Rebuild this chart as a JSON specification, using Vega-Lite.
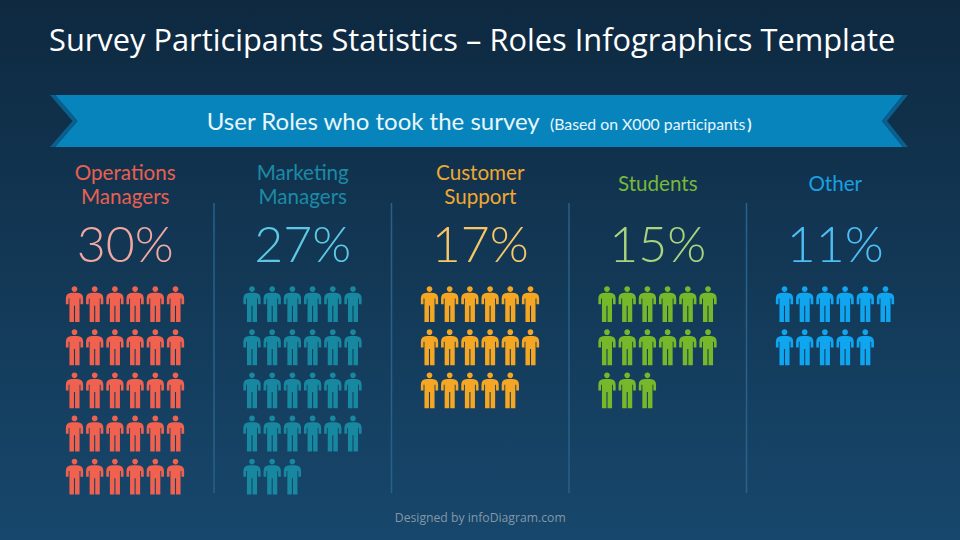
{
"$schema":"https://vega.github.io/schema/vega-lite/v6.json",
"width":960,"height":540,"padding":0,"autosize":{"type":"none"},
"background":"#122f49",
"config":{"view":{"stroke":null,"fill":{"gradient":"linear","x1":0,"y1":0,"x2":0,"y2":1,"stops":[{"offset":0,"color":"#0e2940"},{"offset":1,"color":"#17476c"}]}},"text":{"font":"Lato"}},
"title":{"text":"Survey Participants Statistics – Roles Infographics Template","anchor":"start","frame":"group","orient":"top","offset":0,"dx":49,"dy":82,"baseline":"alphabetic","font":"Open Sans","fontSize":30.8,"fontWeight":"normal","color":"#ffffff"},
"datasets":{
"roles":[
{"role":"Operations Managers","label":"Operations\nManagers","lines":2,"share":0.30},
{"role":"Marketing Managers","label":"Marketing\nManagers","lines":2,"share":0.27},
{"role":"Customer Support","label":"Customer\nSupport","lines":2,"share":0.17},
{"role":"Students","label":"Students","lines":1,"share":0.15},
{"role":"Other","label":"Other","lines":1,"share":0.11}],
"ribbon":[{"part":"band","role":"Customer Support"},{"part":"edge","role":"Customer Support"}],
"people":[
{"role":"Operations Managers","row":0,"col":0},{"role":"Operations Managers","row":0,"col":1},{"role":"Operations Managers","row":0,"col":2},{"role":"Operations Managers","row":0,"col":3},{"role":"Operations Managers","row":0,"col":4},{"role":"Operations Managers","row":0,"col":5},
{"role":"Operations Managers","row":1,"col":0},{"role":"Operations Managers","row":1,"col":1},{"role":"Operations Managers","row":1,"col":2},{"role":"Operations Managers","row":1,"col":3},{"role":"Operations Managers","row":1,"col":4},{"role":"Operations Managers","row":1,"col":5},
{"role":"Operations Managers","row":2,"col":0},{"role":"Operations Managers","row":2,"col":1},{"role":"Operations Managers","row":2,"col":2},{"role":"Operations Managers","row":2,"col":3},{"role":"Operations Managers","row":2,"col":4},{"role":"Operations Managers","row":2,"col":5},
{"role":"Operations Managers","row":3,"col":0},{"role":"Operations Managers","row":3,"col":1},{"role":"Operations Managers","row":3,"col":2},{"role":"Operations Managers","row":3,"col":3},{"role":"Operations Managers","row":3,"col":4},{"role":"Operations Managers","row":3,"col":5},
{"role":"Operations Managers","row":4,"col":0},{"role":"Operations Managers","row":4,"col":1},{"role":"Operations Managers","row":4,"col":2},{"role":"Operations Managers","row":4,"col":3},{"role":"Operations Managers","row":4,"col":4},{"role":"Operations Managers","row":4,"col":5},
{"role":"Marketing Managers","row":0,"col":0},{"role":"Marketing Managers","row":0,"col":1},{"role":"Marketing Managers","row":0,"col":2},{"role":"Marketing Managers","row":0,"col":3},{"role":"Marketing Managers","row":0,"col":4},{"role":"Marketing Managers","row":0,"col":5},
{"role":"Marketing Managers","row":1,"col":0},{"role":"Marketing Managers","row":1,"col":1},{"role":"Marketing Managers","row":1,"col":2},{"role":"Marketing Managers","row":1,"col":3},{"role":"Marketing Managers","row":1,"col":4},{"role":"Marketing Managers","row":1,"col":5},
{"role":"Marketing Managers","row":2,"col":0},{"role":"Marketing Managers","row":2,"col":1},{"role":"Marketing Managers","row":2,"col":2},{"role":"Marketing Managers","row":2,"col":3},{"role":"Marketing Managers","row":2,"col":4},{"role":"Marketing Managers","row":2,"col":5},
{"role":"Marketing Managers","row":3,"col":0},{"role":"Marketing Managers","row":3,"col":1},{"role":"Marketing Managers","row":3,"col":2},{"role":"Marketing Managers","row":3,"col":3},{"role":"Marketing Managers","row":3,"col":4},{"role":"Marketing Managers","row":3,"col":5},
{"role":"Marketing Managers","row":4,"col":0},{"role":"Marketing Managers","row":4,"col":1},{"role":"Marketing Managers","row":4,"col":2},
{"role":"Customer Support","row":0,"col":0},{"role":"Customer Support","row":0,"col":1},{"role":"Customer Support","row":0,"col":2},{"role":"Customer Support","row":0,"col":3},{"role":"Customer Support","row":0,"col":4},{"role":"Customer Support","row":0,"col":5},
{"role":"Customer Support","row":1,"col":0},{"role":"Customer Support","row":1,"col":1},{"role":"Customer Support","row":1,"col":2},{"role":"Customer Support","row":1,"col":3},{"role":"Customer Support","row":1,"col":4},{"role":"Customer Support","row":1,"col":5},
{"role":"Customer Support","row":2,"col":0},{"role":"Customer Support","row":2,"col":1},{"role":"Customer Support","row":2,"col":2},{"role":"Customer Support","row":2,"col":3},{"role":"Customer Support","row":2,"col":4},
{"role":"Students","row":0,"col":0},{"role":"Students","row":0,"col":1},{"role":"Students","row":0,"col":2},{"role":"Students","row":0,"col":3},{"role":"Students","row":0,"col":4},{"role":"Students","row":0,"col":5},
{"role":"Students","row":1,"col":0},{"role":"Students","row":1,"col":1},{"role":"Students","row":1,"col":2},{"role":"Students","row":1,"col":3},{"role":"Students","row":1,"col":4},{"role":"Students","row":1,"col":5},
{"role":"Students","row":2,"col":0},{"role":"Students","row":2,"col":1},{"role":"Students","row":2,"col":2},
{"role":"Other","row":0,"col":0},{"role":"Other","row":0,"col":1},{"role":"Other","row":0,"col":2},{"role":"Other","row":0,"col":3},{"role":"Other","row":0,"col":4},{"role":"Other","row":0,"col":5},
{"role":"Other","row":1,"col":0},{"role":"Other","row":1,"col":1},{"role":"Other","row":1,"col":2},{"role":"Other","row":1,"col":3},{"role":"Other","row":1,"col":4}
]},
"encoding":{"x":{"field":"role","type":"nominal","axis":null,"sort":null,"scale":{"type":"band","domain":["Operations Managers","Marketing Managers","Customer Support","Students","Other"],"range":[36.5,924],"padding":0}}},
"layer":[
{"data":{"name":"ribbon"},"transform":[{"filter":"datum.part==='band'"}],
 "mark":{"type":"point","filled":true,"opacity":1,"strokeWidth":0,"fill":"#0784bc","shape":"M-0.98834 -0.0606L0.98834 -0.0606L0.9394 0L0.98834 0.0606L-0.98834 0.0606L-0.9359 0Z"},
 "encoding":{"x":{"field":"role","type":"nominal","bandPosition":0.493},"y":{"datum":"ribbon","type":"nominal","axis":null,"scale":{"type":"point","padding":0,"domain":["ribbon"],"range":[121,121]}},"size":{"value":736164}}},
{"data":{"name":"ribbon"},"transform":[{"filter":"datum.part==='edge'"}],
 "mark":{"type":"point","filled":true,"opacity":1,"strokeWidth":0,"fill":"#0a5f8e","shape":"M-1 -0.0606L-0.98834 -0.0606L-0.9359 0L-0.98834 0.0606L-1 0.0606L-0.9476 0ZM1 -0.0606L0.98834 -0.0606L0.9394 0L0.98834 0.0606L1 0.0606L0.9511 0Z"},
 "encoding":{"x":{"field":"role","type":"nominal","bandPosition":0.493},"y":{"datum":"ribbon","type":"nominal","axis":null,"scale":{"type":"point","padding":0,"domain":["ribbon"],"range":[121,121]}},"size":{"value":736164}}},
{"data":{"values":[{"role":"Customer Support","text":"User Roles who took the survey"}]},
 "mark":{"type":"text","fontSize":24,"color":"#e8f6fc","align":"left","dx":-273.5,"baseline":"middle"},
 "encoding":{"text":{"field":"text"},"y":{"datum":"ribbon","type":"nominal","axis":null,"scale":{"type":"point","padding":0,"domain":["ribbon"],"range":[123,123]}}}},
{"data":{"values":[{"role":"Customer Support","text":"(Based on X000 participants"}]},
 "mark":{"type":"text","fontSize":15.8,"color":"#e8f6fc","align":"left","dx":69.75,"baseline":"middle"},
 "encoding":{"text":{"field":"text"},"y":{"datum":"ribbon","type":"nominal","axis":null,"scale":{"type":"point","padding":0,"domain":["ribbon"],"range":[125,125]}}}},
{"data":{"values":[{"role":"Customer Support","text":")"}]},
 "mark":{"type":"text","fontSize":15.8,"fontWeight":"bold","color":"#e8f6fc","align":"left","dx":267,"baseline":"middle"},
 "encoding":{"text":{"field":"text"},"y":{"datum":"ribbon","type":"nominal","axis":null,"scale":{"type":"point","padding":0,"domain":["ribbon"],"range":[125,125]}}}},
{"data":{"name":"roles"},"transform":[{"filter":"datum.role!=='Operations Managers'"}],
 "mark":{"type":"rule","strokeWidth":1.5,"color":"#29618a"},
 "encoding":{"x":{"field":"role","type":"nominal","bandPosition":0},"y":{"value":203},"y2":{"value":493}}},
{"data":{"name":"roles"},
 "mark":{"type":"text","fontSize":20.6,"lineBreak":"\n","lineHeight":24,"baseline":"middle"},
 "encoding":{"text":{"field":"label"},"y":{"field":"lines","type":"ordinal","axis":null,"scale":{"type":"point","padding":0,"domain":[2,1],"range":[174,185]}},
  "color":{"field":"role","type":"nominal","legend":null,"scale":{"domain":["Operations Managers","Marketing Managers","Customer Support","Students","Other"],"range":["#e8604f","#1d8aa5","#f0a830","#78b83a","#1aa0e0"]}}}},
{"data":{"name":"roles"},
 "mark":{"type":"text","fontSize":50,"fontWeight":300,"baseline":"middle"},
 "encoding":{"text":{"field":"share","type":"quantitative","format":".0%"},"y":{"datum":"pct","type":"nominal","axis":null,"scale":{"type":"point","padding":0,"domain":["pct"],"range":[247,247]}},
  "color":{"field":"role","type":"nominal","legend":null,"scale":{"domain":["Operations Managers","Marketing Managers","Customer Support","Students","Other"],"range":["#f0a8a0","#5cc8e4","#f7c766","#a9d47c","#4dbdf2"]}}}},
{"data":{"name":"people"},
 "mark":{"type":"point","filled":true,"opacity":1,"strokeWidth":0,"shape":"M0.16 -0.83A0.16 0.16 0 1 1 -0.16 -0.83A0.16 0.16 0 1 1 0.16 -0.83ZM-0.15 -0.62L0.15 -0.62Q0.48 -0.6 0.48 -0.3L0.48 0.02L0.33 0.02L0.33 -0.3L0.28 -0.3L0.28 1L0.03 1L0.03 0.1L-0.03 0.1L-0.03 1L-0.28 1L-0.28 -0.3L-0.33 -0.3L-0.33 0.02L-0.48 0.02L-0.48 -0.3Q-0.48 -0.6 -0.15 -0.62Z"},
 "encoding":{"xOffset":{"field":"col","type":"ordinal","scale":{"type":"point","padding":0,"domain":[0,1,2,3,4,5],"range":[38,139]}},
  "y":{"field":"row","type":"ordinal","axis":null,"scale":{"type":"point","padding":0,"domain":[0,1,2,3,4],"range":[304,476.5]}},
  "size":{"value":1296},
  "color":{"field":"role","type":"nominal","legend":null,"scale":{"domain":["Operations Managers","Marketing Managers","Customer Support","Students","Other"],"range":["#f0624f","#17889f","#f5a623","#76b82a","#0fa5ef"]}}}},
{"data":{"values":[{"role":"Customer Support","text":"Designed by infoDiagram.com"}]},
 "mark":{"type":"text","font":"Open Sans","fontSize":12.2,"color":"#8397a8","baseline":"middle"},
 "encoding":{"text":{"field":"text"},"y":{"datum":"footer","type":"nominal","axis":null,"scale":{"type":"point","padding":0,"domain":["footer"],"range":[518,518]}}}}
],
"resolve":{"scale":{"y":"independent","color":"independent"}}
}
